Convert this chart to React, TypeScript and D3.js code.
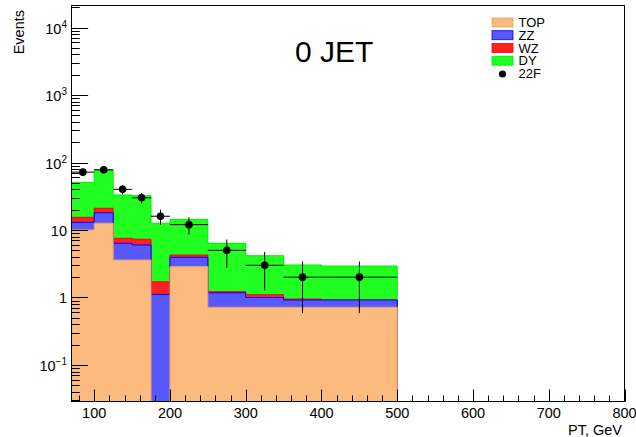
import React from 'react';
import * as d3 from 'd3';

// ---- data ----
const binEdges = [70, 100, 125, 150, 175, 200, 250, 300, 350, 400, 500];
const topValues = [10.0, 12.6, 3.59, 3.59, 0, 2.86, 0.716, 0.716, 0.716, 0.716];
const zzValues = [3.0, 5.4, 2.76, 2.41, 1.11, 1.08, 0.454, 0.284, 0.202, 0.202];
const wzValues = [2.4, 3.0, 1.19, 1.3, 0.6, 0.32, 0.05, 0.1, 0.032, 0.0];
const dyValues = [35.5, 56.4, 25.5, 25.0, 10.9, 10.1, 5.13, 3.06, 2.08, 2.01];
const dataCounts = [72, 78, 40, 30, 16, 12, 5, 3, 2, 2];
const xTickValues = [100, 200, 300, 400, 500, 600, 700, 800];
const yDecades = [-1, 0, 1, 2, 3, 4];
const seriesNames = ['TOP', 'ZZ', 'WZ', 'DY'];
const dataName = '22F';

const W = 636;
const H = 437;
const L = 71.5, R = 624.5, T = 5.5, B = 401.5;
const FONT = '"Liberation Sans", Arial, Helvetica, sans-serif';

const fills = ['#FBBB7E', '#5858FF', '#FF2020', '#20FF20'];
const strokes = ['#F0A060', '#0000FF', '#FF0000', '#00EE00'];

export default function App() {
  const x = d3.scaleLinear().domain([70, 800]).range([L, R]);
  const y = d3.scaleLog().domain([0.02877, 2.12e4]).range([B, T]);
  const yv = (v: number) => (v <= y.domain()[0] ? B : Math.max(T, y(v)));

  const layers = [topValues, zzValues, wzValues, dyValues];
  const cums: number[][] = [];
  layers.forEach((arr, k) => {
    cums.push(arr.map((v, i) => v + (k > 0 ? cums[k - 1][i] : 0)));
  });

  const stepPath = (vals: number[]) => {
    const p = d3.path();
    p.moveTo(x(binEdges[0]), B);
    vals.forEach((v, i) => {
      p.lineTo(x(binEdges[i]), yv(v));
      p.lineTo(x(binEdges[i + 1]), yv(v));
    });
    p.lineTo(x(binEdges[binEdges.length - 1]), B);
    p.closePath();
    return p.toString();
  };

  const xMinor: number[] = d3.range(80, 801, 20).filter((v) => v % 100 !== 0);
  const yMinor: number[] = [];
  for (let k = -2; k <= 4; k++) {
    for (let m = 2; m <= 9; m++) {
      const v = m * Math.pow(10, k);
      if (v > y.domain()[0] && v < y.domain()[1]) yMinor.push(v);
    }
  }

  const yLabel = (k: number) => {
    if (k === 0) return <tspan>1</tspan>;
    if (k === 1) return <tspan>10</tspan>;
    return (
      <>
        <tspan>10</tspan>
        <tspan fontSize={10} dy={-6}>{k < 0 ? '\u2212' + Math.abs(k) : String(k)}</tspan>
      </>
    );
  };

  const legendY = [22.5, 35.2, 48, 60.7];

  return (
    <svg width={W} height={H} style={{ position: 'absolute', left: 0, top: 0, background: '#fff' }} fontFamily={FONT}>
      <rect x={0} y={0} width={W} height={H} fill="#fff" />
      <defs>
        <clipPath id="plotclip">
          <rect x={L} y={T} width={R - L} height={B - T} />
        </clipPath>
      </defs>
      <g clipPath="url(#plotclip)">
        {[3, 2, 1, 0].map((k) => (
          <path key={k} d={stepPath(cums[k])} fill={fills[k]} stroke={strokes[k]} strokeWidth={1} />
        ))}
        {dataCounts.map((n, i) => {
          const cx = x((binEdges[i] + binEdges[i + 1]) / 2);
          const e = Math.sqrt(n);
          return (
            <g key={i} stroke="#000" strokeWidth={1}>
              <line x1={x(binEdges[i])} x2={x(binEdges[i + 1])} y1={y(n)} y2={y(n)} />
              <line x1={cx} x2={cx} y1={yv(n + e)} y2={yv(n - e)} />
              <circle cx={cx} cy={y(n)} r={3.8} fill="#000" stroke="none" />
            </g>
          );
        })}
      </g>

      {/* frame */}
      <rect x={L} y={T} width={R - L} height={B - T} fill="none" stroke="#000" strokeWidth={1} />

      {/* x ticks */}
      {xTickValues.map((v) => (
        <g key={v}>
          <line x1={Math.round(x(v)) + 0.5} x2={Math.round(x(v)) + 0.5} y1={B} y2={B - 12} stroke="#000" />
          <text x={x(v)} y={418} textAnchor="middle" fontSize={14.5} fill="#000">{v}</text>
        </g>
      ))}
      {xMinor.map((v) => (
        <line key={v} x1={Math.round(x(v)) + 0.5} x2={Math.round(x(v)) + 0.5} y1={B} y2={B - 6} stroke="#000" />
      ))}

      {/* y ticks */}
      {yDecades.map((k) => {
        const yy = Math.round(y(Math.pow(10, k))) + 0.5;
        return (
          <g key={k}>
            <line x1={L} x2={L + 16.6} y1={yy} y2={yy} stroke="#000" />
            <text x={67} y={yy} dy="0.36em" textAnchor="end" fontSize={14.5} fill="#000">{yLabel(k)}</text>
          </g>
        );
      })}
      {yMinor.map((v) => {
        const yy = Math.round(y(v)) + 0.5;
        return <line key={v} x1={L} x2={L + 8.3} y1={yy} y2={yy} stroke="#000" />;
      })}

      {/* axis titles */}
      <text x={622} y={435} textAnchor="end" fontSize={14.5} fill="#000">PT, GeV</text>
      <text transform="translate(24,10) rotate(-90)" textAnchor="end" fontSize={14.5} fill="#000">Events</text>

      {/* title */}
      <text x={295} y={61.5} fontSize={30} fill="#000">0 JET</text>

      {/* legend */}
      {seriesNames.map((nm, k) => (
        <g key={nm}>
          <rect x={492} y={legendY[k] - 4.5} width={21} height={9} fill={fills[k]} stroke={strokes[k]} strokeWidth={0.8} />
          <text x={518.5} y={legendY[k] + 4.6} fontSize={13} fill="#000">{nm}</text>
        </g>
      ))}
      <circle cx={502.5} cy={74} r={3.6} fill="#000" />
      <text x={518.5} y={78.2} fontSize={13} fill="#000">{dataName}</text>
    </svg>
  );
}
